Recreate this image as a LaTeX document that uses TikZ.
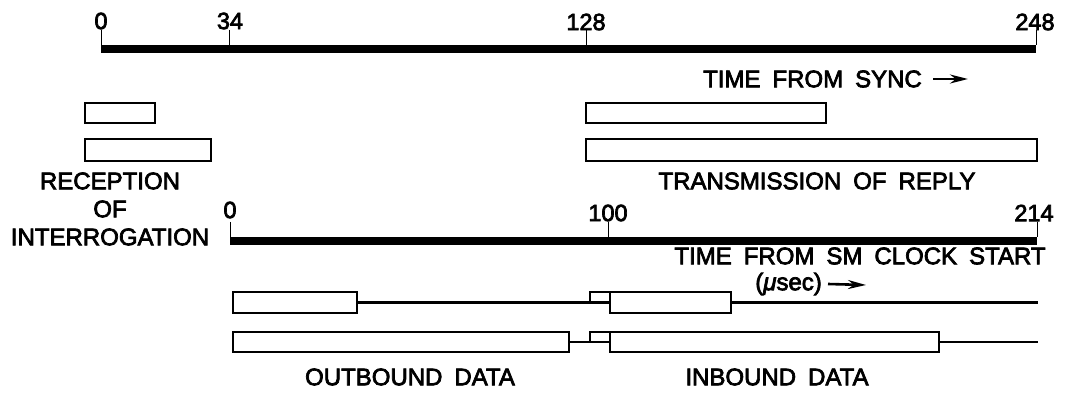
\documentclass[tikz,border=0pt]{standalone}
\usepackage{fontspec}
\setmainfont{Liberation Sans}
\newfontfamily\leroy{Liberation Sans}[FakeBold=3]
\usetikzlibrary{arrows.meta}
\newcommand\mylblfont{\leroy\fontsize{24}{28}\selectfont\spaceskip=12pt plus 2pt minus 1pt\relax}
\begin{document}
\begin{tikzpicture}[x=1pt,y=-1pt,
  lbl/.style={font=\mylblfont, inner sep=0pt},
  num/.style={font=\leroy\fontsize{23.5}{26}\selectfont, inner sep=0pt},
  axisbar/.style={fill=black},
  tickline/.style={line width=1pt},
  bx/.style={draw, line width=1.5pt, rectangle, inner sep=0pt, outer sep=0pt, anchor=north west},
  conn/.style={line width=2.4pt},
  arr/.style={line width=2.6pt, -{Stealth[length=18pt,width=9pt]}}
]
\useasboundingbox (0,0) rectangle (1070,395);

% ---- top axis (time from sync) ----
\fill[axisbar] (101,45) rectangle (1036,53);
\node[num] (t0) at (101,21) {0};
\node[num] (t34) at (230,21) {34};
\node[num] (t128) at (586,22) {128};
\node[num] (t248) at (1035,22) {248};
\draw[tickline] (101,30) -- (101,45);
\draw[tickline] (229,30) -- (229,45);
\draw[tickline] (586,30) -- (586,45);
\draw[tickline] (1036,30) -- (1036,45);

\node[lbl, anchor=east] (sync) at (922,79) {TIME FROM SYNC};
\coordinate (synca) at (968,79);
\draw[arr] ([xshift=11pt]sync.east) -- (synca);

% ---- reception / transmission boxes ----
\node[bx, minimum width=70pt, minimum height=20pt] (r1) at (85,103) {};
\node[bx, minimum width=126pt, minimum height=22pt] (r2) at (85,139) {};
\node[bx, minimum width=240pt, minimum height=20pt] (x1) at (586,103) {};
\node[bx, minimum width=451pt, minimum height=22pt] (x2) at (586,139) {};

\node[lbl, align=center] (recep) at (110,209) {RECEPTION\\OF\\INTERROGATION};
\node[lbl] (trans) at (817,181) {TRANSMISSION OF REPLY};

% ---- bottom axis (time from SM clock start) ----
\fill[axisbar] (230,237) rectangle (1037,245);
\node[num] (b0) at (230,210) {0};
\node[num] (b100) at (608,213) {100};
\node[num] (b214) at (1034,213) {214};
\draw[tickline] (230,222) -- (230,237);
\draw[tickline] (608,222) -- (608,237);
\draw[tickline] (1037,222) -- (1037,237);

\node[lbl] (sm) at (860,256) {TIME FROM SM CLOCK START};
\node[lbl, anchor=east] (usec) at (822,284) {({\itshape μ}sec)};
\coordinate (useca) at (866,285);
\draw[arr] ([xshift=6pt]usec.east) -- (useca);

% ---- outbound / inbound data rows ----
\node[bx, minimum width=124pt, minimum height=21pt] (oa) at (233,292) {};
\node[bx, minimum width=20pt, minimum height=10.5pt] (sa) at (590,292) {};
\node[bx, minimum width=121pt, minimum height=21pt] (ia) at (610,292) {};
\coordinate (ea) at (1038,302.5);
\draw[conn] (oa.east) -- (ia.west);
\draw[conn] (ia.east) -- (ea);

\node[bx, minimum width=336pt, minimum height=20pt] (ob) at (233,332) {};
\node[bx, minimum width=20pt, minimum height=10pt] (sb) at (590,332) {};
\node[bx, minimum width=329pt, minimum height=20pt] (ib) at (610,332) {};
\coordinate (eb) at (1038,342);
\draw[conn] (ob.east) -- (ib.west);
\draw[conn] (ib.east) -- (eb);

\node[lbl] (outb) at (410,377) {OUTBOUND DATA};
\node[lbl] (inb) at (777,377) {INBOUND DATA};
\end{tikzpicture}
\end{document}
